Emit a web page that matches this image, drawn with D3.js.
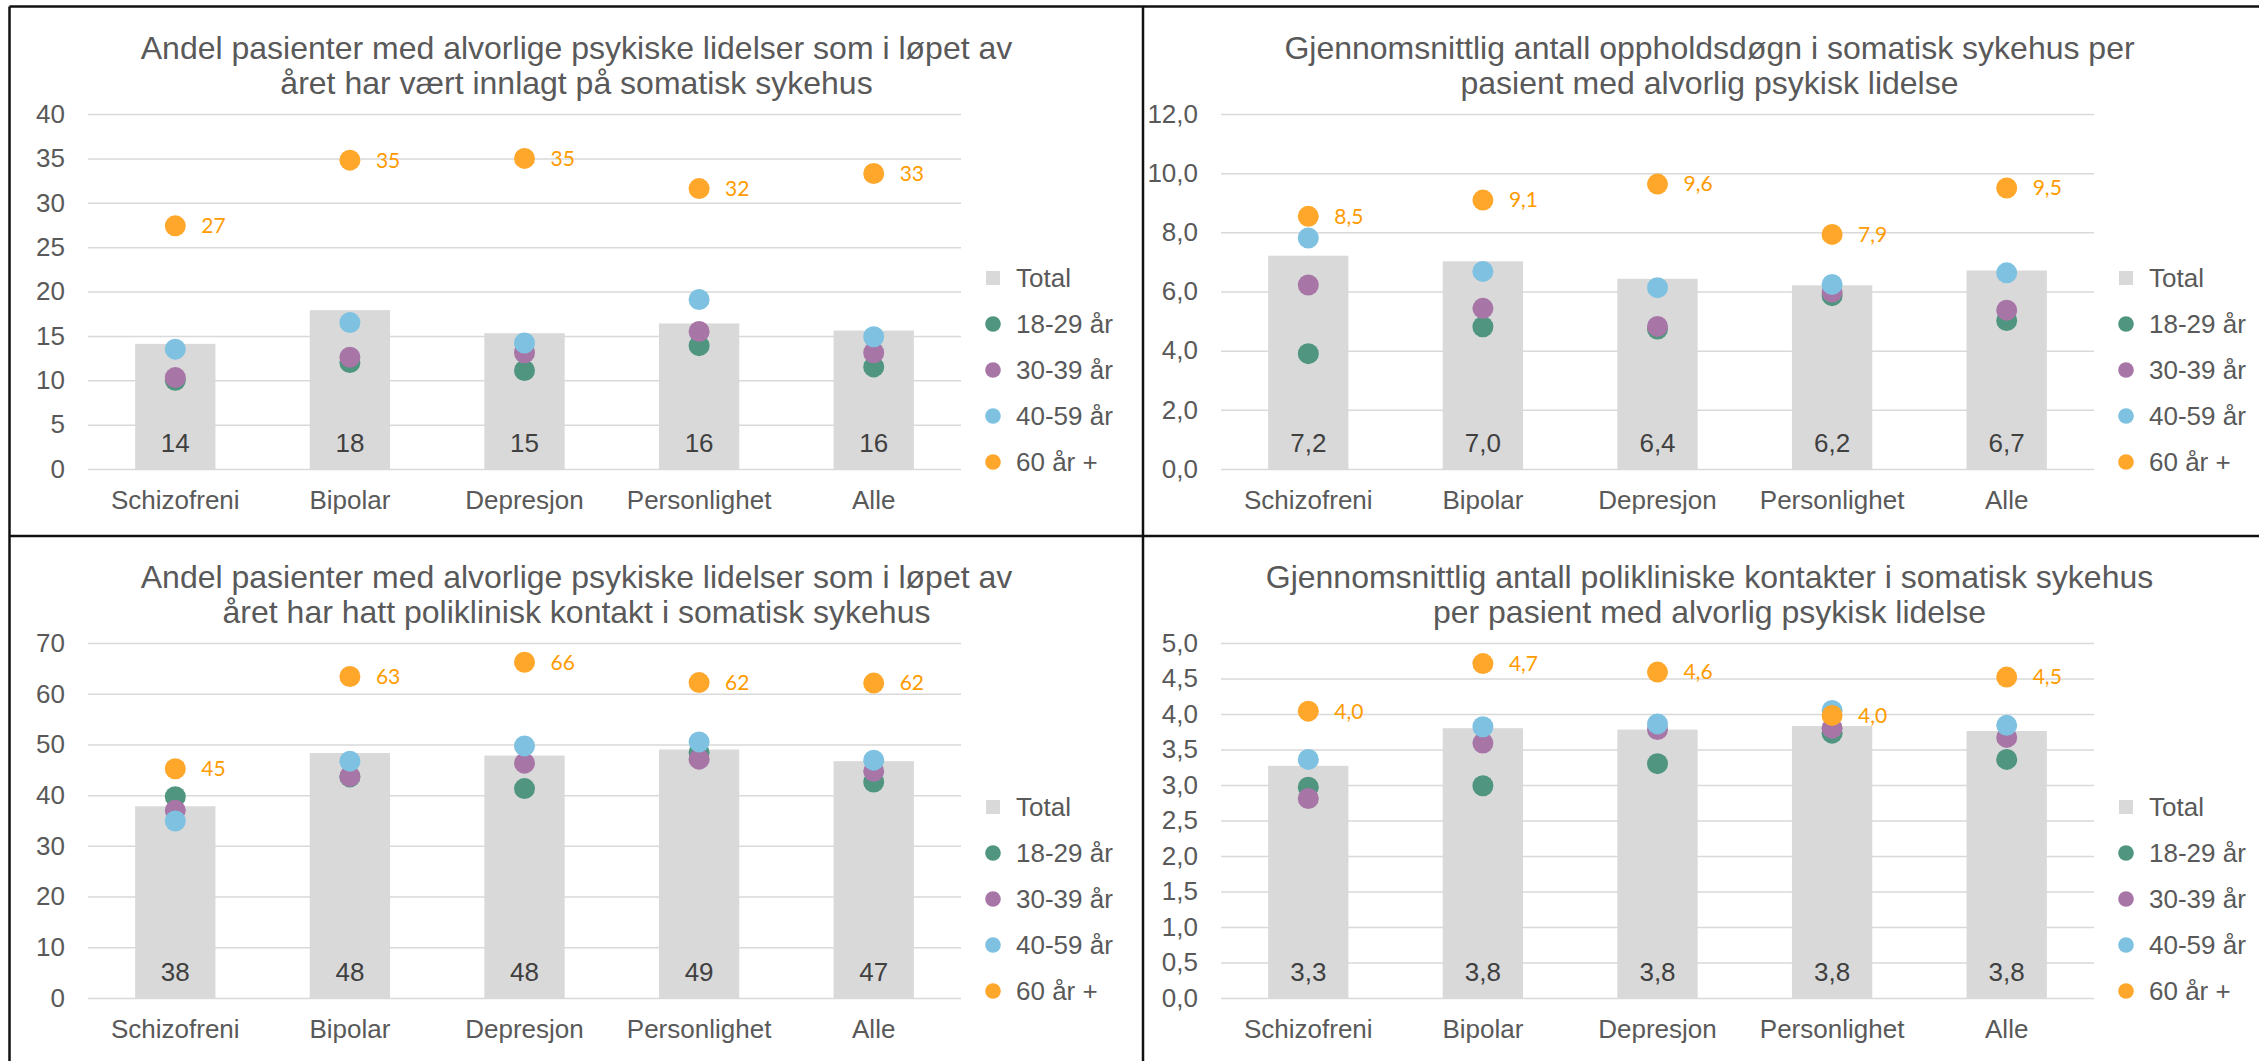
<!DOCTYPE html>
<html lang="no">
  <head>
    <meta charset="utf-8">
    <title>Somatisk sykehus - alvorlige psykiske lidelser</title>
    <script src="https://cdn.jsdelivr.net/npm/d3@7"></script>
    <style>
      body { margin: 0; background: #fff; }
      text { font-family: "Liberation Sans", Arial, sans-serif; }
      .grid line { stroke: #D9D9D9; stroke-width: 1.5; }
      .grid text { fill: #595959; font-size: 26px; }
      .cat { fill: #595959; font-size: 26px; }
      .title { fill: #595959; font-size: 32px; }
      .legend text { fill: #595959; font-size: 26px; }
      .barlabel { fill: #404040; font-size: 26px; }
      .oldlabel { fill: #FF9B00; font-size: 21px; font-family: Lato, "Open Sans", sans-serif; }
    </style>
  </head>
  <body>
    <script>
      var categories = ["Schizofreni", "Bipolar", "Depresjon", "Personlighet", "Alle"];
      var seriesNames = ["Total", "18-29 år", "30-39 år", "40-59 år", "60 år +"];
      var seriesColors = ["#D9D9D9", "#4F957F", "#A776A7", "#7EC1E1", "#FFA72B"];

      // panel 1: andel innlagt
      var title1 = ["Andel pasienter med alvorlige psykiske lidelser som i løpet av", "året har vært innlagt på somatisk sykehus"];
      var ticks1 = [0, 5, 10, 15, 20, 25, 30, 35, 40];
      var total1 = [14.1, 17.9, 15.3, 16.4, 15.6];
      var age18_1 = [10.0, 12.0, 11.1, 13.9, 11.5];
      var age30_1 = [10.3, 12.6, 13.1, 15.5, 13.1];
      var age40_1 = [13.5, 16.5, 14.2, 19.1, 14.9];
      var age60_1 = [27.4, 34.8, 35.0, 31.6, 33.3];

      // panel 2: oppholdsdøgn
      var title2 = ["Gjennomsnittlig antall oppholdsdøgn i somatisk sykehus per", "pasient med alvorlig psykisk lidelse"];
      var ticks2 = [0, 2, 4, 6, 8, 10, 12];
      var total2 = [7.21, 7.02, 6.43, 6.21, 6.71];
      var age18_2 = [3.9, 4.81, 4.73, 5.86, 5.02];
      var age30_2 = [6.22, 5.43, 4.82, 5.98, 5.37];
      var age40_2 = [7.81, 6.68, 6.13, 6.24, 6.63];
      var age60_2 = [8.54, 9.09, 9.63, 7.93, 9.5];

      // panel 3: andel poliklinisk kontakt
      var title3 = ["Andel pasienter med alvorlige psykiske lidelser som i løpet av", "året har hatt poliklinisk kontakt i somatisk sykehus"];
      var ticks3 = [0, 10, 20, 30, 40, 50, 60, 70];
      var total3 = [37.8, 48.3, 47.8, 49.0, 46.7];
      var age18_3 = [39.7, 43.6, 41.3, 48.4, 42.6];
      var age30_3 = [37.0, 43.7, 46.3, 47.1, 44.7];
      var age40_3 = [34.9, 46.7, 49.7, 50.5, 46.9];
      var age60_3 = [45.2, 63.4, 66.2, 62.2, 62.1];

      // panel 4: polikliniske kontakter
      var title4 = ["Gjennomsnittlig antall polikliniske kontakter i somatisk sykehus", "per pasient med alvorlig psykisk lidelse"];
      var ticks4 = [0, 0.5, 1, 1.5, 2, 2.5, 3, 3.5, 4, 4.5, 5];
      var total4 = [3.27, 3.8, 3.78, 3.83, 3.76];
      var age18_4 = [2.97, 2.99, 3.3, 3.73, 3.36];
      var age30_4 = [2.81, 3.59, 3.78, 3.8, 3.67];
      var age40_4 = [3.36, 3.82, 3.86, 4.05, 3.84];
      var age60_4 = [4.04, 4.71, 4.59, 3.98, 4.52];

      var no = d3.formatLocale({decimal: ",", thousands: " ", grouping: [3], currency: ["", " kr"]});
      var fmtInt = no.format(".0f");
      var fmtDec = no.format(".1f");

      var w = 2259, h = 1061;
      var panelW = 1133, panelH = 529;
      var plotL = 78, plotR = 951, plotT = 107, plotB = 462;

      var panels = [
        {x: 10, y: 7, title: title1, ticks: ticks1, fmt: fmtInt, series: [total1, age18_1, age30_1, age40_1, age60_1]},
        {x: 1143, y: 7, title: title2, ticks: ticks2, fmt: fmtDec, series: [total2, age18_2, age30_2, age40_2, age60_2]},
        {x: 10, y: 536, title: title3, ticks: ticks3, fmt: fmtInt, series: [total3, age18_3, age30_3, age40_3, age60_3]},
        {x: 1143, y: 536, title: title4, ticks: ticks4, fmt: fmtDec, series: [total4, age18_4, age30_4, age40_4, age60_4]}
      ];

      var svg = d3.select("body").append("svg")
          .attr("width", w)
          .attr("height", h);

      panels.forEach(function(p) {
        var g = svg.append("g")
            .attr("transform", "translate(" + p.x + "," + p.y + ")");

        var xScale = d3.scaleBand()
            .domain(categories)
            .range([plotL, plotR]);
        var yScale = d3.scaleLinear()
            .domain([0, d3.max(p.ticks)])
            .range([plotB, plotT]);

        // title
        var t = g.append("text")
            .attr("class", "title")
            .attr("text-anchor", "middle");
        p.title.forEach(function(line, i) {
          t.append("tspan")
              .attr("x", panelW / 2)
              .attr("y", 41 + i * 35)
              .attr("dy", "0.35em")
              .text(line);
        });

        // gridlines + y tick labels
        var yAxis = d3.axisLeft(yScale)
            .tickValues(p.ticks)
            .tickSize(-(plotR - plotL))
            .tickPadding(23)
            .tickFormat(p.fmt);
        var ga = g.append("g")
            .attr("class", "grid")
            .attr("transform", "translate(" + plotL + ",0)")
            .call(yAxis);
        ga.select(".domain").remove();
        ga.selectAll("text").attr("font-size", null);

        // total bars
        var bw = xScale.bandwidth() * 0.46;
        var rows = categories.map(function(c, i) { return {cat: c, total: p.series[0][i]}; });
        g.selectAll("rect.bar")
          .data(rows)
          .enter()
          .append("rect")
          .attr("class", "bar")
          .attr("x", function(d) { return xScale(d.cat) + (xScale.bandwidth() - bw) / 2; })
          .attr("y", function(d) { return yScale(d.total); })
          .attr("width", bw)
          .attr("height", function(d) { return plotB - yScale(d.total); })
          .attr("fill", seriesColors[0]);

        g.selectAll("text.barlabel")
          .data(rows)
          .enter()
          .append("text")
          .attr("class", "barlabel")
          .attr("x", function(d) { return xScale(d.cat) + xScale.bandwidth() / 2; })
          .attr("y", plotB - 26)
          .attr("dy", "0.35em")
          .attr("text-anchor", "middle")
          .text(function(d) { return p.fmt(d.total); });

        // age group dots, drawn in series order
        for (var s = 1; s < 5; s++) {
          var pts = categories.map(function(c, i) { return {cat: c, v: p.series[s][i]}; });
          g.selectAll("circle.s" + s)
            .data(pts)
            .enter()
            .append("circle")
            .attr("class", "s" + s)
            .attr("cx", function(d) { return xScale(d.cat) + xScale.bandwidth() / 2; })
            .attr("cy", function(d) { return yScale(d.v); })
            .attr("r", 10.5)
            .attr("fill", seriesColors[s]);
          if (s === 4) {
            g.selectAll("text.oldlabel")
              .data(pts)
              .enter()
              .append("text")
              .attr("class", "oldlabel")
              .attr("x", function(d) { return xScale(d.cat) + xScale.bandwidth() / 2 + 26; })
              .attr("y", function(d) { return yScale(d.v); })
              .attr("dy", "0.35em")
              .text(function(d) { return p.fmt(d.v); });
          }
        }

        // category labels
        g.selectAll("text.cat")
          .data(categories)
          .enter()
          .append("text")
          .attr("class", "cat")
          .attr("x", function(d) { return xScale(d) + xScale.bandwidth() / 2; })
          .attr("y", plotB + 31)
          .attr("dy", "0.35em")
          .attr("text-anchor", "middle")
          .text(function(d) { return d; });

        // legend
        var lg = g.append("g").attr("class", "legend");
        seriesNames.forEach(function(name, i) {
          var ly = 271 + i * 46;
          if (i === 0) {
            lg.append("rect")
                .attr("x", 976)
                .attr("y", ly - 7)
                .attr("width", 14)
                .attr("height", 14)
                .attr("fill", seriesColors[0]);
          } else {
            lg.append("circle")
                .attr("cx", 983)
                .attr("cy", ly)
                .attr("r", 7.8)
                .attr("fill", seriesColors[i]);
          }
          lg.append("text")
              .attr("x", 1006)
              .attr("y", ly)
              .attr("dy", "0.35em")
              .text(name);
        });
      });

      // panel frames
      var frame = [
        [9.5, 6.5, w, 6.5],
        [9.5, 6.5, 9.5, h],
        [1143, 6.5, 1143, h],
        [9.5, 536, w, 536]
      ];
      svg.selectAll("line.frame")
        .data(frame)
        .enter()
        .append("line")
        .attr("class", "frame")
        .attr("x1", function(d) { return d[0]; })
        .attr("y1", function(d) { return d[1]; })
        .attr("x2", function(d) { return d[2]; })
        .attr("y2", function(d) { return d[3]; })
        .attr("stroke", "#111")
        .attr("stroke-width", 2.5);
    </script>
  </body>
</html>
